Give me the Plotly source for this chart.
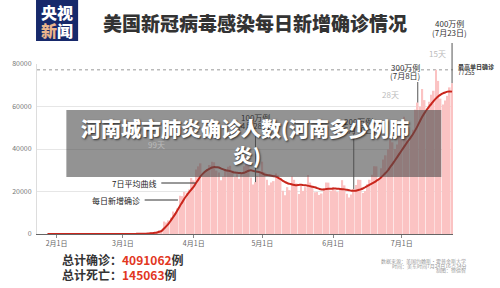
import datetime as dt
import plotly.graph_objects as go

# ---------------- data ----------------
start_date = "2020-01-28"
daily_new = [
    # Jan 28-31
    0, 0, 0, 2,
    # Feb
    1, 0, 3, 0, 0, 0, 0, 0, 1, 0, 0, 0, 1, 0, 0, 1, 0, 0, 0, 0, 2, 0, 0, 36, 0, 0, 0, 1, 3,
    # Mar
    8, 23, 20, 31, 68, 45, 140, 116, 65, 376, 322, 382, 516, 548, 772, 1133, 1789, 1362, 5894, 5423,
    6389, 7787, 10571, 9893, 12042, 18058, 17821, 19821, 19408, 20921, 26365,
    # Apr
    25200, 30390, 31824, 33264, 28219, 29595, 30561, 32449, 34037, 33752, 29861, 28917, 25306, 27051,
    29744, 31594, 32114, 29911, 26941, 28123, 25984, 28728, 31900, 36188, 33955, 26543, 23314, 24401,
    27327, 29515,
    # May
    34037, 29078, 25501, 23000, 24252, 24896, 28420, 27652, 25524, 20395, 18196, 22060, 20617, 27097,
    25508, 23834, 18873, 22630, 20289, 22026, 27717, 24198, 22207, 19608, 19790, 18362, 19055, 21651,
    24231, 24178, 20350,
    # Jun
    22153, 20578, 19730, 21140, 25337, 22873, 18905, 17207, 18585, 21151, 23021, 25543, 25459, 19274,
    20218, 23457, 25524, 27876, 31901, 31829, 26052, 30991, 35024, 37034, 39867, 44890, 43159, 39950,
    42134, 46042,
    # Jul 1-23
    51097, 55220, 53301, 43187, 45285, 49093, 58542, 61847, 59880, 68241, 63006, 58345, 62193, 65540,
    67403, 77255, 72048, 63698, 60997, 62879, 65011, 69000, 71000,
]
avg7 = [
    # Jan 28-31
    0, 0, 0, 0,
    # Feb
    1, 1, 1, 1, 1, 1, 1, 1, 1, 0, 0, 0, 0, 0, 0, 0, 0, 0, 0, 0, 1, 1, 1, 5, 5, 5, 5, 6, 6,
    # Mar
    10, 15, 20, 25, 35, 45, 60, 70, 90, 130, 170, 220, 300, 400, 550, 750, 1050, 1500, 2600, 3700,
    4900, 6400, 8000, 9600, 11400, 13300, 15000, 16800, 18300, 19700, 21000,
    # Apr
    22300, 24000, 25600, 27200, 28400, 29400, 30200, 30800, 31300, 31500, 31400, 31300, 30800, 30400,
    30000, 29800, 29600, 29200, 28900, 28800, 28700, 28600, 28800, 29300, 29800, 30000, 29700, 29500,
    29300, 29000,
    # May
    28600, 28000, 27800, 27600, 27400, 27200, 27000, 26400, 25800, 25000, 24400, 23900, 23600, 23300,
    23100, 23000, 23100, 23200, 23000, 22900, 22700, 22500, 22200, 22000, 21600, 21200, 21000, 21000,
    21200, 21300, 21300,
    # Jun
    21400, 21400, 21300, 21200, 21100, 21000, 20800, 20600, 20400, 20300, 20400, 20700, 21000, 21400,
    22000, 22600, 23200, 23800, 24400, 25100, 25800, 26700, 27700, 28800, 30000, 31600, 33000, 34600,
    36200, 37800,
    # Jul 1-23
    39400, 41000, 42600, 44100, 45600, 47200, 49000, 51000, 53200, 55300, 57000, 58600, 60000, 61300,
    62600, 63800, 64800, 65600, 66200, 66600, 67000, 67100, 67000,
]
tick_dates = ["2020-02-01", "2020-03-01", "2020-04-01", "2020-05-01", "2020-06-01", "2020-07-01"]
tick_text = ["2月1日", "3月1日", "4月1日", "5月1日", "6月1日", "7月1日"]
y_ticks = [0, 20000, 40000, 60000, 80000]

milestone_dates = ["2020-04-28", "2020-06-10", "2020-07-08", "2020-07-23"]
milestone_labels = ["100万例", "200万例", "300万例", "400万例"]
milestone_sub = ["(4月28日)", "(6月10日)", "(7月8日)", "(7月23日)"]
gap_labels = ["99天", "28天", "15天"]
max_daily = 77255
total_cases = "4091062"
total_deaths = "145063"

# ---------------- build ----------------
d0 = dt.date.fromisoformat(start_date)
dates = [(d0 + dt.timedelta(days=i)).isoformat() for i in range(len(daily_new))]
value_by_date = dict(zip(dates, daily_new))

W, H = 500, 288
L, R, T, B = 28, 47, 64, 54
PW, PH = W - L - R, H - T - B


def px(x):
    return (x - L) / PW


def py(y):
    return (H - B - y) / PH


FONT = "Noto Sans CJK SC"

fig = go.Figure()
fig.add_trace(go.Bar(x=dates, y=daily_new, marker_color="#fbc3c3", marker_line_width=0,
                     hoverinfo="skip"))
fig.add_trace(go.Scatter(x=dates, y=avg7, mode="lines", line=dict(color="#c9261c", width=2),
                         line_shape="spline", hoverinfo="skip"))

shapes = []
annots = []

# max dotted line
shapes.append(dict(type="line", xref="paper", yref="y", x0=0, x1=1, y0=max_daily, y1=max_daily,
                   line=dict(color="#999999", width=1, dash="dot"), layer="below"))

# milestone vertical lines and labels
line_tops = [132, 134, 82, 43]
label_pos = [(251, 117), (356, 121), (404, 67), (449, 24)]
for md, lab, sub, top, (lx, ly) in zip(milestone_dates, milestone_labels, milestone_sub,
                                        line_tops, label_pos):
    shapes.append(dict(type="line", xref="x", yref="paper", x0=md, x1=md,
                       y0=value_by_date[md] / 80000, y1=py(top),
                       line=dict(color="#555555", width=1)))
    annots.append(dict(xref="paper", yref="paper", x=px(lx), y=py(ly), text=lab, showarrow=False,
                       font=dict(family=FONT, size=8, color="#333333"), xanchor="center",
                       yanchor="middle"))
    annots.append(dict(xref="paper", yref="paper", x=px(lx), y=py(ly + 8.5), text=sub,
                       showarrow=False, font=dict(family=FONT, size=8, color="#333333"),
                       xanchor="center", yanchor="middle"))

for g, (gx, gy) in zip(gap_labels, [(150, 144), (389, 94), (437, 53)]):
    annots.append(dict(xref="paper", yref="paper", x=px(gx), y=py(gy), text=g, showarrow=False,
                       font=dict(family=FONT, size=8, color="#bbbbbb"), xanchor="center",
                       yanchor="middle"))

annots.append(dict(xref="paper", yref="paper", x=px(456), y=py(66), text="<b>最高单日确诊</b>",
                   showarrow=False, font=dict(family=FONT, size=6, color="#333333"),
                   xanchor="left", yanchor="middle"))
annots.append(dict(xref="paper", yref="paper", x=px(456), y=py(72.5), text=str(max_daily),
                   showarrow=False, font=dict(family=FONT, size=6, color="#333333"),
                   xanchor="left", yanchor="middle"))

# legend-like labels with leader lines
annots.append(dict(xref="paper", yref="paper", x=px(152), y=py(183), text="7日平均曲线",
                   showarrow=False, font=dict(family=FONT, size=8, color="#222222"),
                   xanchor="right", yanchor="middle"))
shapes.append(dict(type="line", xref="paper", yref="paper", x0=px(155), x1=px(190), y0=py(183),
                   y1=py(183), line=dict(color="#333333", width=1)))
annots.append(dict(xref="paper", yref="paper", x=px(135), y=py(200), text="每日新增确诊",
                   showarrow=False, font=dict(family=FONT, size=8, color="#222222"),
                   xanchor="right", yanchor="middle"))
shapes.append(dict(type="line", xref="paper", yref="paper", x0=px(138), x1=px(172), y0=py(200),
                   y1=py(200), line=dict(color="#333333", width=1)))

# logo
shapes.append(dict(type="rect", xref="paper", yref="paper", x0=px(27), x1=px(70), y0=py(0),
                   y1=py(41), fillcolor="#17296b", line_width=0))
annots.append(dict(xref="paper", yref="paper", x=px(48.5), y=py(12), text="央视",
                   showarrow=False, font=dict(family=FONT, size=16, color="white", weight=900),
                   xanchor="center", yanchor="middle"))
annots.append(dict(xref="paper", yref="paper", x=px(48.5), y=py(30),
                   text="<span style='color:#e9b48c'>新</span>闻",
                   showarrow=False, font=dict(family=FONT, size=16, color="white", weight=900),
                   xanchor="center", yanchor="middle"))

# title
annots.append(dict(xref="paper", yref="paper", x=px(251), y=py(23),
                   text="美国新冠病毒感染每日新增确诊情况", showarrow=False,
                   font=dict(family=FONT, size=19, color="#333333", weight=900), xanchor="center",
                   yanchor="middle"))

# totals
annots.append(dict(xref="paper", yref="paper", x=px(51), y=py(259),
                   text=f"<b>总计确诊：<span style='color:#e2371f'>{total_cases}</span>例</b>",
                   showarrow=False, font=dict(family=FONT, size=12, color="#333333"),
                   xanchor="left", yanchor="middle"))
annots.append(dict(xref="paper", yref="paper", x=px(51), y=py(274),
                   text=f"<b>总计死亡：<span style='color:#e2371f'>{total_deaths}</span>例</b>",
                   showarrow=False, font=dict(family=FONT, size=12, color="#333333"),
                   xanchor="left", yanchor="middle"))

# source
src = ["数据来源：美国约翰斯·霍普金斯大学", "时间：美东时间7月24日16点34分", "制图：徐德智"]
for s, sy in zip(src, [261, 265.5, 270]):
    annots.append(dict(xref="paper", yref="paper", x=px(468), y=py(sy), text=s, showarrow=False,
                       font=dict(family=FONT, size=5, color="#999999"), xanchor="right",
                       yanchor="middle"))

# overlay
shapes.append(dict(type="rect", xref="paper", yref="paper", x0=px(58), x1=px(441), y0=py(110),
                   y1=py(177), fillcolor="rgba(75,75,75,0.6)", line_width=0, layer="above"))
ov_font = dict(family=FONT, size=20, color="white", weight=900,
               shadow="1px 1px 2px rgba(0,0,0,0.7)")
annots.append(dict(xref="paper", yref="paper", x=px(240), y=py(128),
                   text="河南城市肺炎确诊人数(河南多少例肺", showarrow=False, font=ov_font,
                   xanchor="center", yanchor="middle"))
annots.append(dict(xref="paper", yref="paper", x=px(243), y=py(155), text="炎)",
                   showarrow=False, font=ov_font, xanchor="center", yanchor="middle"))

fig.update_layout(
    width=W, height=H, margin=dict(l=L, r=R, t=T, b=B, pad=0),
    paper_bgcolor="white", plot_bgcolor="white", showlegend=False, bargap=0.3,
    shapes=shapes, annotations=annots,
    font=dict(family=FONT),
)
fig.update_xaxes(type="date", range=["2020-01-23 10:00", "2020-07-23 10:00"],
                 tickvals=tick_dates, ticktext=tick_text, ticks="outside", ticklen=3,
                 tickcolor="#888888", tickfont=dict(family=FONT, size=7, color="#666666"),
                 showgrid=False, showline=True, linecolor="#666666", linewidth=1, zeroline=False)
fig.update_yaxes(range=[0, 80000], tickvals=y_ticks, ticktext=[str(v) for v in y_ticks],
                 tickfont=dict(family=FONT, size=7, color="#777777"), showgrid=True,
                 gridcolor="#e6e6e6", gridwidth=1, showline=True, linecolor="#dddddd",
                 zeroline=False, ticks="", ticklabelstandoff=3)

fig.write_html("out.html")
